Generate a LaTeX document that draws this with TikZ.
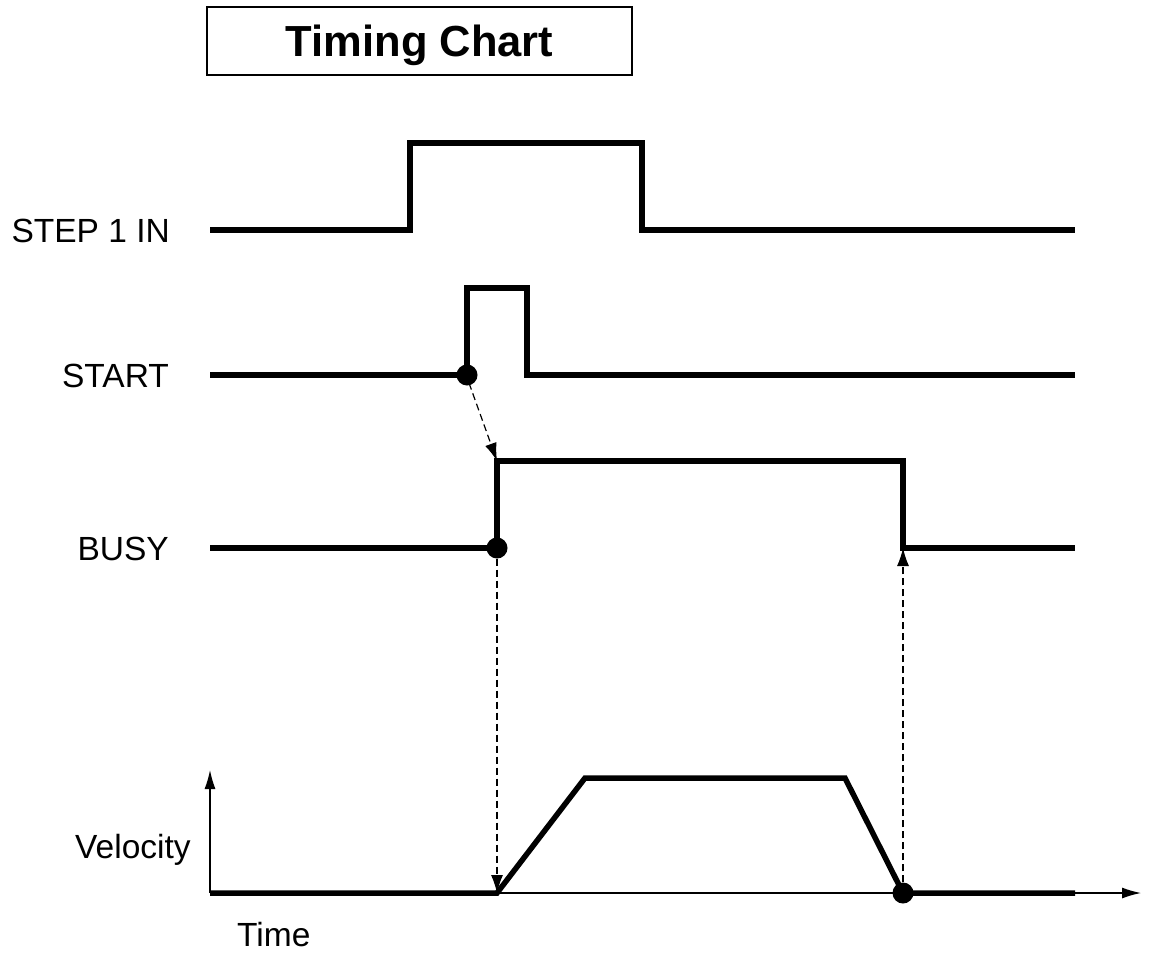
\documentclass[tikz,border=0pt]{standalone}
\usepackage{fontspec}
\setmainfont{Liberation Sans}
\usetikzlibrary{arrows.meta}
\tikzset{
  signal/.style={line width=5.5pt, line join=miter, line cap=butt},
  axis/.style={line width=1.3pt, -{Latex[length=19pt,width=11pt]}},
  cause/.style={line width=1.2pt, dash pattern=on 7pt off 4pt, -{Latex[length=18pt,width=12pt]}},
  dotmark/.style={circle, fill=black, inner sep=0pt, minimum size=21pt},
  siglabel/.style={font=\fontsize{33.5}{38}\selectfont, anchor=base east, inner sep=0pt},
  axlabel/.style={font=\fontsize{33.5}{38}\selectfont, anchor=base west, inner sep=0pt},
  titlebox/.style={draw, line width=1.2pt, minimum width=425pt, minimum height=68pt,
    text height=31pt, text depth=0pt,
    font=\fontsize{43.5}{50}\bfseries\selectfont, inner sep=0pt}
}
\begin{document}
\begin{tikzpicture}[x=1pt,y=-1pt]
\useasboundingbox (0,0) rectangle (1159,953);

% title
\node[titlebox] (title) at (419.5,41) {Timing Chart};

% signal names
\node[siglabel] (lstep)  at (170,242) {STEP 1 IN};
\node[siglabel] (lstart) at (169,387) {START};
\node[siglabel] (lbusy)  at (169,560) {BUSY};
\node[axlabel]  (lvel)   at (75,858)  {Velocity};
\node[axlabel]  (ltime)  at (237,946) {Time};

% velocity axes
\coordinate (origin) at (210,893);
\coordinate (ytip)   at (210,770);
\coordinate (xtip)   at (1141,893);
\draw[axis] (origin) -- (ytip);
\draw[axis] (origin) -- (xtip);

% STEP 1 IN
\draw[signal] (210,230) -- (410,230) -- (410,143) -- (642,143) -- (642,230) -- (1075,230);

% START
\coordinate (startup) at (467,375);
\draw[signal] (210,375) -- (startup) -- (467,288) -- (527,288) -- (527,375) -- (1075,375);

% BUSY
\coordinate (busyup)   at (497,548);
\coordinate (busytop)  at (497,461);
\coordinate (busydown) at (903,548);
\draw[signal] (210,548) -- (busyup) -- (busytop) -- (903,461) -- (busydown) -- (1075,548);

% velocity profile
\coordinate (accel) at (497,893);
\coordinate (stop)  at (903,893);
\draw[signal] (210,893) -- (accel) -- (585,778) -- (845,778) -- (stop) -- (1075,893);

% event markers
\node[dotmark] (dstart) at (startup) {};
\node[dotmark] (dbusy)  at (busyup)  {};
\node[dotmark] (dstop)  at (stop)    {};

% cause and effect
\draw[cause] (dstart.center) ++(2,8) -- (busytop);
\draw[cause] (dbusy.south) -- (accel);
\draw[cause] (dstop.north) -- (busydown);
\end{tikzpicture}
\end{document}
